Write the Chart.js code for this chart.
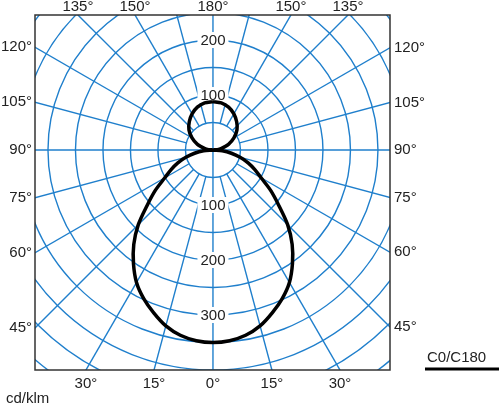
<!DOCTYPE html>
<html>
<head>
<meta charset="utf-8">
<script src="https://cdn.jsdelivr.net/npm/chart.js@4"></script>
<style>
  html, body { margin: 0; padding: 0; background: #fff; }
  #wrap { width: 500px; height: 406px; }
</style>
</head>
<body>
<div id="wrap"><canvas id="polar"></canvas></div>
<script>
// C0/C180 curve, symmetric. angle from nadir (deg) -> cd/klm
const angles      = [0, 5, 10, 15, 20, 25, 30, 35, 40, 45, 50, 55, 60, 65, 70, 75, 80, 85, 90,
                     95, 100, 110, 120, 130, 140, 150, 160, 170, 180];
const intensities = [350, 348, 342, 331, 315, 298, 278, 252, 224, 192, 156, 128, 101, 84, 68, 51, 34, 17, 0,
                     8, 15, 30, 44, 57, 67, 76, 83, 87, 88];

const ringValues   = [50, 100, 150, 200, 250, 300, 350, 400, 450, 500, 550, 600];
const ringLabelsUp = [100, 200];
const ringLabelsDn = [100, 200, 300];
const spokeStep = 15;
const sideLabels   = [45, 60, 75, 90, 105, 120];
const bottomLabels = [30, 15, 0, 15, 30];
const bottomSides  = [-1, -1, 0, 1, 1];
const topLabels    = [135, 150, 180, 150, 135];
const topSides     = [-1, -1, 0, 1, 1];
const unitLabel = 'cd/klm';
const seriesName = 'C0/C180';

const gridBlue = '#1f7fcc';
const font = '15px "Liberation Sans", Arial, sans-serif';

// polar (angle from nadir, intensity) -> cartesian, full 360 curve
function toXY(deg, r, side) {
  const a = deg * Math.PI / 180;
  return { x: side * r * Math.sin(a), y: -r * Math.cos(a) };
}
const curve = [];
for (let i = angles.length - 1; i >= 0; i--) curve.push(toXY(angles[i], intensities[i], -1));
for (let i = 1; i < angles.length; i++) curve.push(toXY(angles[i], intensities[i], 1));

const polarGrid = {
  id: 'polarGrid',
  beforeDatasetsDraw(chart) {
    const { ctx, chartArea: ca, scales: { x, y } } = chart;
    const cx = x.getPixelForValue(0), cy = y.getPixelForValue(0);
    const k = x.getPixelForValue(100) - cx; // px per 100 cd
    const px = v => v * k / 100;

    ctx.save();
    ctx.beginPath();
    ctx.rect(ca.left, ca.top, ca.right - ca.left, ca.bottom - ca.top);
    ctx.clip();
    ctx.strokeStyle = gridBlue;
    ctx.lineWidth = 1.4;
    ringValues.forEach(r => {
      ctx.beginPath();
      ctx.arc(cx, cy, px(r), 0, Math.PI * 2);
      ctx.stroke();
    });
    for (let d = 0; d < 360; d += spokeStep) {
      const a = d * Math.PI / 180;
      const r0 = (d % 90 === 0) ? 0 : px(50);
      const r1 = px(1000);
      ctx.beginPath();
      ctx.moveTo(cx + r0 * Math.sin(a), cy + r0 * Math.cos(a));
      ctx.lineTo(cx + r1 * Math.sin(a), cy + r1 * Math.cos(a));
      ctx.stroke();
    }
    ctx.restore();

    // ring labels on vertical axis
    ctx.save();
    ctx.font = font;
    ctx.textAlign = 'center';
    ctx.textBaseline = 'middle';
    const tag = (txt, yy) => {
      const w = ctx.measureText(txt).width + 6;
      ctx.fillStyle = '#fff';
      ctx.fillRect(cx - w / 2, yy - 8, w, 16);
      ctx.fillStyle = '#222';
      ctx.fillText(txt, cx, yy + 1);
    };
    ringLabelsUp.forEach(v => tag(String(v), y.getPixelForValue(v)));
    ringLabelsDn.forEach(v => tag(String(v), y.getPixelForValue(-v)));
    ctx.restore();
  },
  afterDatasetsDraw(chart) {
    const { ctx, chartArea: ca, scales: { x, y } } = chart;
    const cx = x.getPixelForValue(0), cy = y.getPixelForValue(0);

    ctx.save();
    ctx.strokeStyle = '#333';
    ctx.lineWidth = 1.5;
    ctx.strokeRect(ca.left, ca.top, ca.right - ca.left, ca.bottom - ca.top);

    ctx.font = font;
    ctx.fillStyle = '#222';
    ctx.textBaseline = 'middle';
    // side labels where spokes meet left/right frame
    sideLabels.forEach(d => {
      const t = Math.tan(d * Math.PI / 180);
      ctx.textAlign = 'right';
      ctx.fillText(d + '°', ca.left - 3, cy + (cx - ca.left) / t);
      ctx.textAlign = 'left';
      ctx.fillText(d + '°', ca.right + 4, cy + (ca.right - cx) / t);
    });
    ctx.textAlign = 'center';
    const dyb = ca.bottom - cy;
    bottomLabels.forEach((d, i) => {
      const xx = cx + bottomSides[i] * dyb * Math.tan(d * Math.PI / 180);
      ctx.fillText(d + '°', xx, ca.bottom + 14);
    });
    const dyt = cy - ca.top;
    topLabels.forEach((d, i) => {
      const xx = cx + topSides[i] * dyt * Math.tan((180 - d) * Math.PI / 180);
      ctx.fillText(d + '°', xx, ca.top - 8);
    });
    ctx.textAlign = 'left';
    ctx.fillText(unitLabel, 6, ca.bottom + 29);

    ctx.fillText(seriesName, 427, 358);
    ctx.strokeStyle = '#000';
    ctx.lineWidth = 3;
    ctx.beginPath();
    ctx.moveTo(425, 369);
    ctx.lineTo(499, 369);
    ctx.stroke();
    ctx.restore();
  }
};

new Chart(document.getElementById('polar'), {
  type: 'scatter',
  data: {
    datasets: [{
      label: seriesName,
      data: curve,
      showLine: true,
      borderColor: '#000',
      borderWidth: 3.5,
      pointRadius: 0,
      tension: 0.3,
      fill: false
    }]
  },
  options: {
    responsive: true,
    maintainAspectRatio: false,
    animation: false,
    layout: { padding: { left: 35, top: 15, right: 110, bottom: 36 } },
    plugins: { legend: { display: false }, tooltip: { enabled: false } },
    scales: {
      x: { type: 'linear', display: false, min: -323.6, max: 321.9 },
      y: { type: 'linear', display: false, min: -400, max: 245.5 }
    }
  },
  plugins: [polarGrid]
});
</script>
</body>
</html>
